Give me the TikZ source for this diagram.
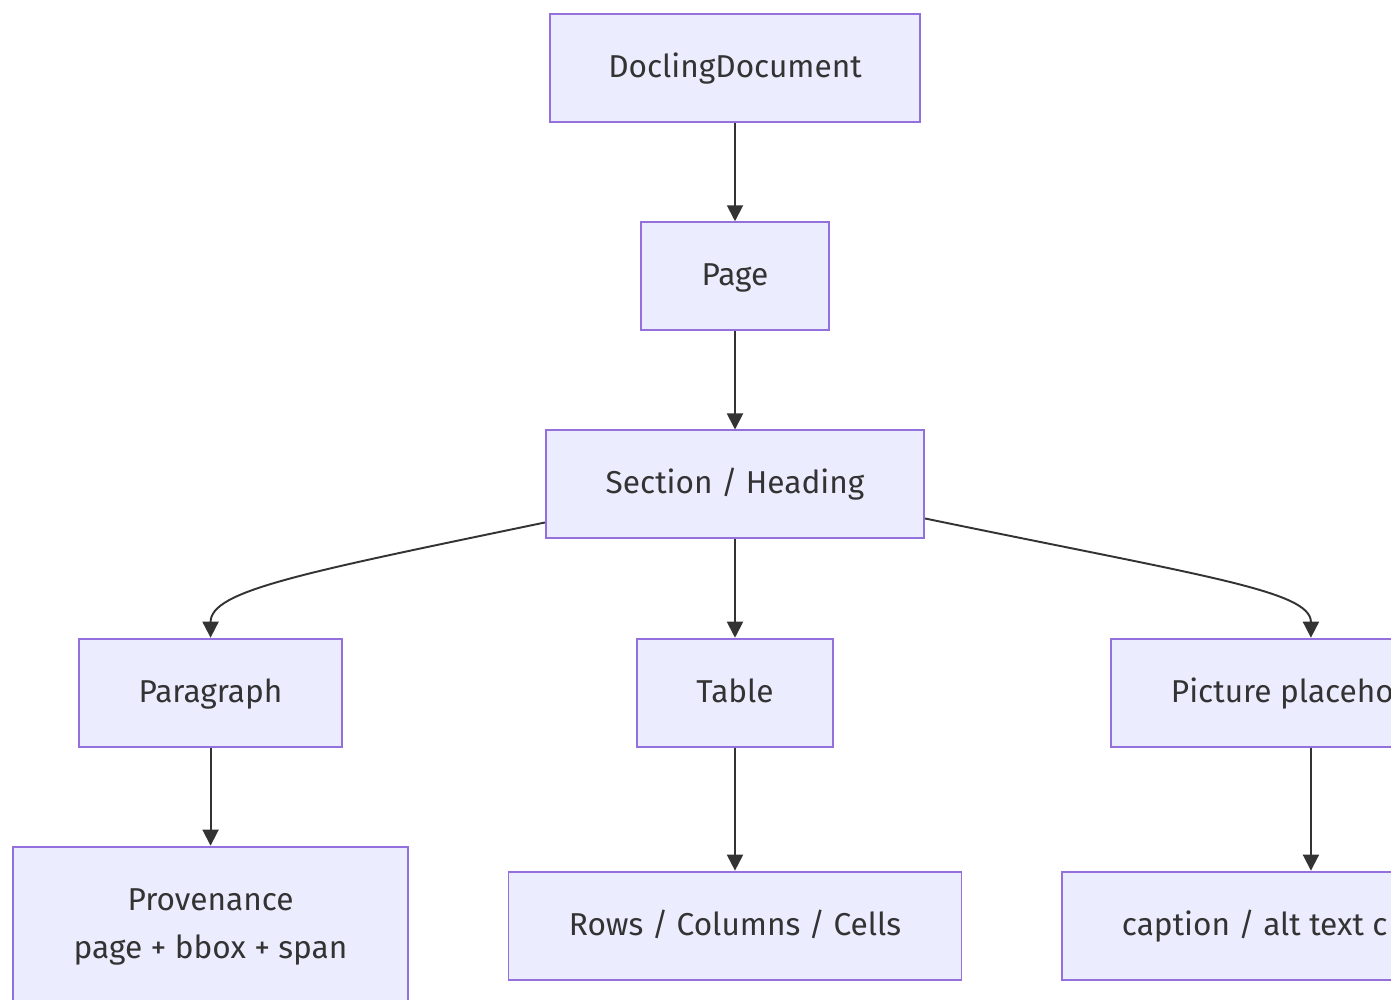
\documentclass[tikz,border=0pt]{standalone}
\usepackage{fontspec}
\setmainfont{Fira Sans}
\usetikzlibrary{arrows.meta, positioning}
\definecolor{boxfill}{HTML}{ECECFF}
\definecolor{boxline}{HTML}{9370DB}
\definecolor{ink}{HTML}{333333}

\begin{document}
\begin{tikzpicture}[
    node distance=1.966cm,
    box/.style={rectangle, draw=boxline, fill=boxfill, line width=1.1pt, minimum height=2.16cm, align=center, text=ink, text height=13pt, text depth=2.3pt, font=\fontsize{18}{27}\selectfont},
    arrow/.style={-{Triangle[length=0.32cm, width=0.32cm]}, draw=ink, line width=1.1pt}
]
\useasboundingbox (0,0) rectangle (27.82,20);

% Nodes
\node[box, minimum width=7.40cm] (doc) at (14.70,18.64) {DoclingDocument};
\node[box, minimum width=3.76cm, below=of doc] (page) {Page};
\node[box, minimum width=7.56cm, below=of page] (section) {Section / Heading};
\node[box, minimum width=3.92cm, below=of section] (table) {Table};
\node[box, minimum width=5.26cm, left=5.86cm of table] (para) {Paragraph};
\node[box, minimum width=8.00cm, right=5.52cm of table] (picture) {\makebox[5.6cm][l]{Picture placeho}};
\node[box, minimum width=7.90cm, minimum height=3.2cm, below=1.96cm of para, text height=, text depth=, font=\fontsize{18}{27.2}\selectfont] (prov) {Provenance\\page + bbox + span};
\node[box, minimum width=9.06cm, below=2.46cm of table] (rows) {Rows / Columns / Cells};
\node[box, minimum width=9.96cm, below=2.46cm of picture] (caption) {\makebox[7.56cm][l]{caption / alt text c}};

% Arrows
\draw[arrow] (doc) -- (page);
\draw[arrow] (page) -- (section);
\draw[arrow] (section) -- (table);
\draw[arrow] ([yshift=-0.76cm]section.west) .. controls +(-4.9,-1.02) and +(0,0.94) .. (para.north);
\draw[arrow] ([yshift=-0.68cm]section.east) .. controls +(5.6,-1.16) and +(0,0.94) .. (picture.north);
\draw[arrow] (para) -- (prov);
\draw[arrow] (table) -- (rows);
\draw[arrow] (picture) -- (caption);

\end{tikzpicture}
\end{document}
